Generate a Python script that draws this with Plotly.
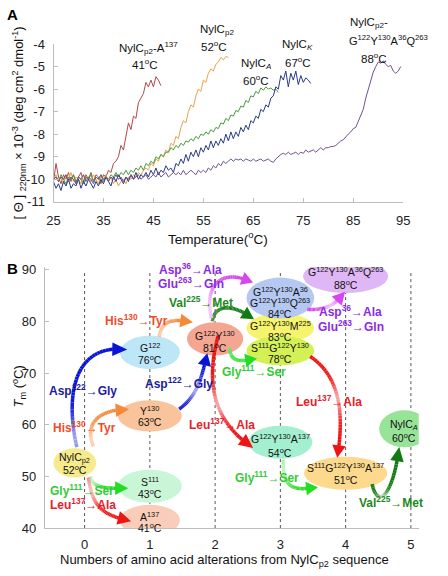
import math
import plotly.graph_objects as go

W, H = 448, 576
FONT = "Arial, 'Liberation Sans', sans-serif"

# ================= Panel A data (CD melting curves) =================
STEP_A = 0.5
curve_names = ["NylCp2-A137", "NylCp2", "NylCA", "NylCK", "NylCp2-G122Y130A36Q263"]
curve_start = [25.0, 25.0, 25.0, 25.0, 25.0]
red_vals = [-10.1, -9.3, -9.9, -10.2, -9.8, -10.0, -9.7, -10.1, -9.8, -10.2,
            -9.9, -9.7, -10.1, -9.8, -10.0, -9.7, -10.1, -9.8, -9.9, -10.2,
            -9.8, -9.9, -9.6, -9.7, -9.3, -9.2, -9.0, -8.5, -8.7, -8.0,
            -7.5, -7.8, -7.2, -7.3, -6.6, -6.4, -6.2, -5.7, -5.9, -5.6,
            -5.9, -5.45, -5.6, -5.85]
orange_vals = [-10.0, -9.8, -10.1, -9.9, -10.2, -9.8, -10.0, -9.7, -10.1, -9.9,
               -10.0, -10.2, -9.8, -10.0, -9.9, -10.1, -9.8, -10.0, -10.2, -9.9,
               -10.0, -9.8, -10.1, -9.9, -10.2, -10.0, -10.3, -10.1, -10.0, -10.2,
               -9.9, -10.0, -9.8, -9.9, -9.7, -9.8, -9.6, -9.5, -9.6, -9.3,
               -9.4, -9.1, -9.2, -8.9, -9.0, -8.7, -8.8, -8.4, -8.5, -8.1,
               -8.2, -7.7, -7.4, -7.5, -7.0, -6.7, -6.8, -6.3, -6.0, -6.1,
               -5.6, -5.7, -5.3, -5.1, -5.2, -4.9, -4.8, -4.6, -4.7, -4.55,
               -4.6]
green_vals = [-10.0, -9.9, -10.1, -9.8, -10.0, -10.2, -9.9, -10.0, -9.8, -10.1,
              -9.9, -10.0, -10.2, -9.9, -10.0, -9.8, -10.1, -9.9, -10.0, -9.8,
              -10.1, -9.9, -10.0, -9.8, -9.9, -9.7, -9.9, -9.7, -9.8, -9.6,
              -9.8, -9.6, -9.7, -9.5, -9.6, -9.4, -9.6, -9.3, -9.4, -9.2,
              -9.3, -9.0, -9.1, -8.9, -9.0, -8.8, -8.8, -8.6, -8.7, -8.5,
              -8.6, -8.4, -8.5, -8.3, -8.35, -8.2, -8.3, -8.1, -8.2, -8.0,
              -8.05, -7.9, -8.0, -7.8, -7.9, -7.7, -7.75, -7.5, -7.55, -7.3,
              -7.4, -7.15, -7.2, -6.95, -7.0, -6.75, -6.8, -6.5, -6.6, -6.3,
              -6.35, -6.1, -6.2, -5.95, -6.05, -5.9, -6.0, -5.95, -6.05, -6.0,
              -6.15]
navy_vals = [-10.1, -10.4, -10.2, -10.5, -10.1, -10.3, -10.0, -10.4, -10.2, -10.3,
             -10.0, -10.4, -10.1, -10.3, -10.0, -10.2, -10.4, -10.1, -10.3, -10.0,
             -10.2, -9.9, -10.1, -10.3, -9.9, -10.1, -9.8, -10.0, -10.2, -9.9,
             -10.1, -9.8, -10.0, -9.7, -10.0, -9.8, -9.9, -9.7, -9.9, -9.6,
             -9.8, -9.5, -9.8, -9.6, -9.7, -9.4, -9.6, -9.5, -9.7, -9.3,
             -9.4, -9.1, -9.3, -8.9, -9.2, -8.8, -9.0, -8.7, -9.0, -8.6,
             -8.8, -8.5, -8.7, -8.3, -8.6, -8.3, -8.5, -8.2, -8.4, -8.0,
             -8.3, -7.9, -8.2, -7.9, -8.1, -7.7, -7.9, -7.6, -7.8, -7.4,
             -7.5, -7.2, -7.3, -6.9, -7.0, -6.7, -6.8, -6.4, -6.3, -5.9,
             -6.0, -5.4, -5.6, -5.2, -5.9, -5.3, -5.6, -5.2, -5.8, -5.4,
             -5.7, -5.5, -5.6, -5.75]
purple_vals = [-10.0, -9.9, -10.1, -9.9, -10.0, -9.8, -10.1, -9.9, -10.0, -10.2,
               -9.9, -10.0, -9.8, -10.1, -9.9, -10.0, -10.2, -9.9, -10.0, -9.8,
               -10.0, -9.9, -10.1, -9.9, -10.0, -9.8, -10.0, -9.9, -10.1, -9.9,
               -10.0, -9.8, -10.0, -9.9, -9.8, -10.0, -9.9, -9.8, -10.0, -9.9,
               -9.8, -9.9, -9.7, -9.9, -9.8, -9.7, -9.9, -9.8, -9.7, -9.8,
               -9.7, -9.8, -9.6, -9.8, -9.7, -9.6, -9.7, -9.8, -9.6, -9.7,
               -9.6, -9.7, -9.5, -9.6, -9.4, -9.5, -9.3, -9.4, -9.2, -9.3,
               -9.2, -9.1, -9.2, -9.1, -9.15, -9.1, -9.2, -9.1, -9.15, -9.2,
               -9.1, -9.2, -9.15, -9.1, -9.2, -9.15, -9.1, -9.2, -9.25, -9.1,
               -9.0, -8.9, -8.85, -8.9, -8.8, -8.9, -8.85, -8.8, -8.9, -8.8,
               -8.85, -8.7, -8.8, -8.75, -8.7, -8.8, -8.7, -8.6, -8.7, -8.6,
               -8.6, -8.55, -8.55, -8.5, -8.4, -8.3, -8.25, -8.1, -8.0, -7.9,
               -7.75, -7.7, -7.45, -7.2, -6.9, -6.4, -6.0, -5.6, -5.25, -5.0,
               -4.8, -4.85, -4.75, -4.9, -5.0, -4.95, -5.2, -5.3, -5.2, -5.0]
curve_values = [red_vals, orange_vals, green_vals, navy_vals, purple_vals]
curve_colors = ["#b24848", "#e3a44a", "#4a9a3c", "#2b3a87", "#6f5291"]

a_xticks = [25, 35, 45, 55, 65, 75, 85, 95]
a_yticks = [-11, -10, -9, -8, -7, -6, -5, -4]
a_yticktext = ["-11", "-10", "-9", "-8", "-7", "-6", "-5", "-4"]

# ================= Panel B data (variants) =================
node_names = [["NylC<sub>p2</sub>"], ["S<sup>111</sup>"], ["A<sup>137</sup>"], ["Y<sup>130</sup>"],
              ["G<sup>122</sup>"], ["G<sup>122</sup>Y<sup>130</sup>"],
              ["G<sup>122</sup>Y<sup>130</sup>A<sup>36</sup>", "G<sup>122</sup>Y<sup>130</sup>Q<sup>263</sup>"],
              ["G<sup>122</sup>Y<sup>130</sup>M<sup>225</sup>"], ["S<sup>111</sup>G<sup>122</sup>Y<sup>130</sup>"],
              ["G<sup>122</sup>Y<sup>130</sup>A<sup>36</sup>Q<sup>263</sup>"],
              ["G<sup>122</sup>Y<sup>130</sup>A<sup>137</sup>"],
              ["S<sup>111</sup>G<sup>122</sup>Y<sup>130</sup>A<sup>137</sup>"], ["NylC<sub><i>A</i></sub>"]]
node_alterations = [0, 1, 1, 1, 1, 2, 3, 3, 3, 4, 3, 4, 5]
node_tm = [52, 43, 41, 63, 76, 81, 84, 83, 78, 88, 54, 51, 60]

b_xticks = [0, 1, 2, 3, 4, 5]
b_yticks = [40, 50, 60, 70, 80, 90]

mut_texts = ["Asp<sup>36</sup>→Ala", "Glu<sup>263</sup>→Gln", "Val<sup>225</sup>→Met", "His<sup>130</sup>→Tyr",
             "Asp<sup>122</sup>→Gly", "Asp<sup>122</sup>→Gly", "His<sup>130</sup>→Tyr", "Gly<sup>111</sup>→Ser",
             "Leu<sup>137</sup>→Ala", "Gly<sup>111</sup>→Ser", "Leu<sup>137</sup>→Ala", "Leu<sup>137</sup>→Ala",
             "Asp<sup>36</sup>→Ala", "Glu<sup>263</sup>→Gln", "Gly<sup>111</sup>→Ser", "Val<sup>225</sup>→Met"]

# ================= Layout geometry / styles =================
A_XPX, A_YPX, A_XR, A_YR = (48, 409), (38, 200), (25, 95), (-11, -4)
B_XPX, B_YPX, B_XR, B_YR = (39, 425), (267, 535), (-0.61, 5.12), (40, 90.5)

def b2p(x, y):
    px = B_XPX[0] + (x - B_XR[0]) / (B_XR[1] - B_XR[0]) * (B_XPX[1] - B_XPX[0])
    py = B_YPX[1] - (y - B_YR[0]) / (B_YR[1] - B_YR[0]) * (B_YPX[1] - B_YPX[0])
    return px, py

def p2b(px, py):
    x = B_XR[0] + (px - B_XPX[0]) / (B_XPX[1] - B_XPX[0]) * (B_XR[1] - B_XR[0])
    y = B_YR[0] + (B_YPX[1] - py) / (B_YPX[1] - B_YPX[0]) * (B_YR[1] - B_YR[0])
    return x, y

node_dx = [-0.15, 0, 0, 0, 0, 0, 0, 0, 0, 0, 0, 0, -0.1]
node_dy = [0.6, 5.1, 0.5, -1.3, -2.0, -4.4, 0.5, -4.3, -3.7, 0.7, 2.6, -0.4, -0.8]
node_rx = [22, 33, 31, 33, 31, 29, 35, 35, 35, 44, 33, 43, 26]
node_ry = [15, 17, 16, 16, 17, 17, 21, 15, 15, 17, 17, 17, 19]
node_fill = ["#f6eb8c", "#caf6d8", "#f9cdb9", "#f9c49c", "#bde6f7", "#f5a693", "#b5c8f2",
             "#f6f46c", "#d3f055", "#dfb7f4", "#a3efcf", "#fcd98c", "#97e397"]
node_shift = [[5, -7], [5, -7], [4, -7], [5, -6], [5, -7], [3, -9], [7, -4, -15],
              [3, -8], [3, -8], [5, -8], [4, -10], [6, -6], [4, -9]]
node_order = [0, 1, 2, 3, 4, 5, 7, 8, 6, 9, 10, 11, 12]

C = dict(purple="#8a2be2", dkgreen="#1c8a1c", orange="#f04c28", navy="#1c1c9c",
         lime="#33cc33", red="#e8202a")
mut_colors = ["purple", "purple", "dkgreen", "orange", "navy", "navy", "orange", "lime",
              "red", "lime", "red", "red", "purple", "purple", "lime", "dkgreen"]
mut_pos = [(1.63, 90.2), (1.63, 87.4), (1.78, 83.8), (0.79, 80.2), (-0.03, 66.8), (1.44, 68.1),
           (0.0, 59.6), (-0.04, 47.4), (-0.03, 44.7), (2.6, 70.4), (2.11, 60.2), (3.75, 64.5),
           (4.08, 81.9), (4.08, 79.1), (2.79, 49.8), (4.70, 45.1)]

AC = dict(blue="#0a14d4", orange="#f5893a", red="#ee1414", lime="#22dd22",
          dkgreen="#127a12", magenta="#d846f0")
arrows = [
    ("blue", [(-0.119, 55.66), (-0.297, 65.47), (-0.178, 75.85), (0.653, 74.53)], (0.05, 0.6, 0.15)),
    ("blue", [(1.45, 63.0), (1.71, 65.5), (1.78, 68.3), (1.88, 73.8)], (0.45, 0.6, 0.2)),
    ("orange", [(0.134, 55.85), (0.0, 59.8), (0.178, 63.0), (0.682, 63.0)], (0.1, 0.6, 0.25)),
    ("orange", [(1.142, 77.0), (1.187, 80.2), (1.335, 80.6), (1.66, 79.8)], (0.1, 0.5, 0.3)),
    ("lime", [(0.089, 50.0), (0.119, 47.7), (0.297, 47.7), (0.668, 47.7)], (0.1, 0.7, 0.3)),
    ("red", [(0.059, 49.8), (0.119, 43.8), (0.297, 42.5), (0.712, 41.3)], (0.15, 0.7, 0.25)),
    ("red", [(2.047, 77.2), (1.855, 68.3), (1.958, 60.8), (2.582, 55.5)], (0.55, 0.6, 0.15)),
    ("red", [(3.457, 73.2), (3.932, 69.2), (3.976, 61.7), (3.872, 53.6)], (0.5, 0.6, 0.15)),
    ("lime", [(3.042, 53.2), (3.042, 47.5), (3.19, 47.2), (3.576, 47.9)], (0.1, 0.7, 0.3)),
    ("lime", [(2.226, 74.9), (2.226, 72.1), (2.374, 72.1), (2.641, 72.8)], (0.0, 0.3, 0.2)),
    ("dkgreen", [(1.958, 80.0), (1.988, 83.4), (2.285, 83.4), (2.596, 80.4)], (0.0, 0.2, 0.2)),
    ("magenta", [(1.944, 80.6), (1.825, 87.2), (2.107, 90.4), (2.582, 87.5)], (0.1, 0.7, 0.3)),
    ("magenta", [(3.412, 82.3), (3.709, 82.1), (3.858, 83.4), (3.991, 85.7)], (0.5, 0.6, 0.2)),
    ("dkgreen", [(4.407, 48.5), (4.481, 43.8), (4.718, 45.7), (4.822, 55.7)], (0.4, 0.7, 0.15)),
]

def blend(c, f):
    r, g, b = int(c[1:3], 16), int(c[3:5], 16), int(c[5:7], 16)
    return "rgb(%d,%d,%d)" % (round(r + (255 - r) * f), round(g + (255 - g) * f), round(b + (255 - b) * f))

def bez(ps, t):
    pts = list(ps)
    while len(pts) > 1:
        pts = [((1 - t) * a[0] + t * b[0], (1 - t) * a[1] + t * b[1]) for a, b in zip(pts[:-1], pts[1:])]
    return pts[0]

fig = go.Figure()

for name, start, vals, col in zip(curve_names, curve_start, curve_values, curve_colors):
    xs = [start + STEP_A * i for i in range(len(vals))]
    fig.add_trace(go.Scatter(x=xs, y=vals, mode="lines", name=name, line=dict(color=col, width=1),
                             xaxis="x", yaxis="y", showlegend=False, hoverinfo="skip"))

node_x = [a + d for a, d in zip(node_alterations, node_dx)]
node_y = [t + d for t, d in zip(node_tm, node_dy)]
fig.add_trace(go.Scatter(x=node_x, y=node_y, mode="markers", marker=dict(opacity=0),
                         xaxis="x2", yaxis="y2", showlegend=False, hoverinfo="skip"))

shapes = []
for xv in b_xticks:
    shapes.append(dict(type="line", xref="x2", yref="y2", x0=xv, x1=xv, y0=40, y1=89.5,
                       line=dict(color="#555555", width=1, dash="dot"), layer="below"))

sx = (B_XR[1] - B_XR[0]) / (B_XPX[1] - B_XPX[0])
sy = (B_YR[1] - B_YR[0]) / (B_YPX[1] - B_YPX[0])
for i in node_order:
    cx, cy = node_x[i], node_y[i]
    shapes.append(dict(type="circle", xref="x2", yref="y2",
                       x0=cx - node_rx[i] * sx, x1=cx + node_rx[i] * sx,
                       y0=cy - node_ry[i] * sy, y1=cy + node_ry[i] * sy,
                       fillcolor=node_fill[i], line=dict(width=0)))

HL, HW, N = 12, 7, 40
for cname, pts, (tc, amt, wdt) in arrows:
    col = AC[cname]
    ppx = [b2p(*p) for p in pts]
    curve = [bez(ppx, i / N) for i in range(N + 1)]
    acc, k = 0.0, N
    while k > 0 and acc < HL:
        acc += math.dist(curve[k], curve[k - 1])
        k -= 1
    base, tip = curve[k], curve[N]
    dx, dy = tip[0] - base[0], tip[1] - base[1]
    ln = math.hypot(dx, dy) or 1
    ux, uy = dx / ln, dy / ln
    for i in range(min(k + 1, N)):
        t = (i + 0.5) / N
        f = amt * math.exp(-((t - tc) / wdt) ** 2)
        a = p2b(*curve[i]); b = p2b(*curve[i + 1])
        shapes.append(dict(type="line", xref="x2", yref="y2", x0=a[0], y0=a[1], x1=b[0], y1=b[1],
                           line=dict(color=blend(col, f), width=3.5)))
    p1 = p2b(*tip)
    p2 = p2b(base[0] - uy * HW, base[1] + ux * HW)
    p3 = p2b(base[0] + uy * HW, base[1] - ux * HW)
    shapes.append(dict(type="path", xref="x2", yref="y2",
                       path="M %f,%f L %f,%f L %f,%f Z" % (p1[0], p1[1], p2[0], p2[1], p3[0], p3[1]),
                       fillcolor=col, line=dict(width=0)))

annotations = []

def pa(text, px, py, size=12, color="#111111", angle=0, weight="normal", xanchor="center"):
    annotations.append(dict(text=text, x=px / W, y=1 - py / H, xref="paper", yref="paper",
                            showarrow=False, textangle=angle, xanchor=xanchor, yanchor="middle",
                            font=dict(family=FONT, size=size, color=color, weight=weight)))

pa("A", 6, 8, size=15, color="#000", weight="bold")
pa("B", 6, 268, size=15, color="#000", weight="bold")

pa("NylC<sub>p2</sub>-A<sup>137</sup>", 146, 42, size=11.5)
pa("41<sup>o</sup>C", 142, 59, size=11.5)
pa("NylC<sub>p2</sub>", 217, 24, size=11.5)
pa("52<sup>o</sup>C", 214, 40, size=11.5)
pa("NylC<sub><i>A</i></sub>", 257, 59, size=11.5)
pa("60<sup>o</sup>C", 257, 75, size=11.5)
pa("NylC<sub><i>K</i></sub>", 300, 39, size=11.5)
pa("67<sup>o</sup>C", 300, 56, size=11.5)
pa("NylC<sub>p2</sub>-", 352, 16, size=11.5, xanchor="left")
pa("G<sup>122</sup>Y<sup>130</sup>A<sup>36</sup>Q<sup>263</sup>", 351, 34, size=11, xanchor="left")
pa("88<sup>o</sup>C", 379, 52, size=11.5)

pa("Temperature(<sup>o</sup>C)", 218, 237, size=13.5)
pa("[ Θ ] <sub>220nm</sub> × 10<sup>-3</sup> (deg cm<sup>2</sup> dmol<sup>-1</sup>)", 12, 119, size=13, angle=-90)
pa("<i>T</i><sub>m</sub> (<sup>o</sup>C)", 12, 390, size=13, angle=-90)
pa("Numbers of amino acid alterations from NylC<sub>p2</sub> sequence", 225, 568, size=13)

for i in range(len(node_names)):
    lines = node_names[i] + ["%d<sup>o</sup>C" % node_tm[i]]
    for line, sh in zip(lines, node_shift[i]):
        annotations.append(dict(text=line, x=node_x[i], y=node_y[i], xref="x2", yref="y2",
                                yshift=sh, showarrow=False,
                                font=dict(family=FONT, size=10.5, color="#111111")))

for txt, ck, (mx, my) in zip(mut_texts, mut_colors, mut_pos):
    annotations.append(dict(text=txt, x=mx, y=my, xref="x2", yref="y2", showarrow=False,
                            font=dict(family=FONT, size=12, color=C[ck], weight="bold")))

axis_common = dict(showline=True, linecolor="#bdbdbd", linewidth=1, showgrid=False, zeroline=False,
                   tickfont=dict(family=FONT, size=13, color="#222222"), tickcolor="#bdbdbd")

fig.update_layout(
    width=W, height=H, autosize=False, margin=dict(l=0, r=0, t=0, b=0),
    paper_bgcolor="white", plot_bgcolor="white", showlegend=False,
    xaxis=dict(domain=[A_XPX[0] / W, A_XPX[1] / W], range=list(A_XR), anchor="y",
               tickvals=a_xticks, ticks="inside", ticklen=4, ticklabelstandoff=7, **axis_common),
    yaxis=dict(domain=[1 - A_YPX[1] / H, 1 - A_YPX[0] / H], range=list(A_YR), anchor="x",
               tickvals=a_yticks, ticktext=a_yticktext, ticks="inside", ticklen=4,
               ticklabelstandoff=5, **axis_common),
    xaxis2=dict(domain=[B_XPX[0] / W, B_XPX[1] / W], range=list(B_XR), anchor="y2",
                tickvals=b_xticks, ticks="", ticklabelstandoff=4, **axis_common),
    yaxis2=dict(domain=[1 - B_YPX[1] / H, 1 - B_YPX[0] / H], range=list(B_YR), anchor="x2",
                tickvals=b_yticks, ticks="inside", ticklen=4, ticklabelstandoff=5, **axis_common),
    shapes=shapes, annotations=annotations,
)

fig.write_html("out.html", config={"displayModeBar": False},
               post_script="document.body.style.margin='0';document.body.style.overflow='hidden';")
